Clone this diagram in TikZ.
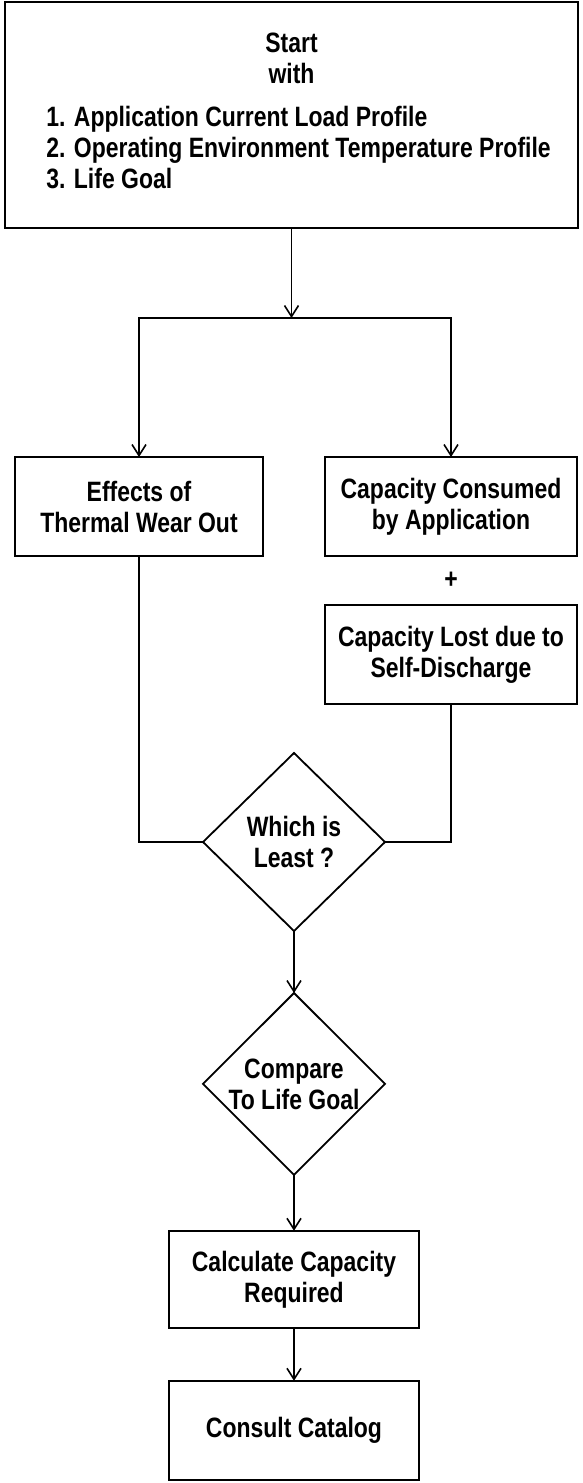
\documentclass[tikz,border=0pt]{standalone}
\usepackage{fontspec}
\setmainfont{Liberation Sans}[FakeStretch=0.82]
\usetikzlibrary{arrows.meta,positioning,calc,shapes.geometric}

\begin{document}
\begin{tikzpicture}[x=1pt, y=-1pt,
  every node/.style={font=\fontsize{28}{31}\selectfont\bfseries},
  box/.style={draw, line width=1.8pt, align=center, inner sep=0pt, outer sep=0pt, minimum height=99pt},
  decide/.style={draw, diamond, line width=1.8pt, align=center, inner sep=0pt, outer sep=0pt, minimum width=182pt, minimum height=178pt},
  arr/.style={-{Straight Barb[length=11pt,width=14pt]}, line width=1.6pt},
  link/.style={line width=1.6pt}
]
\useasboundingbox (0,0) rectangle (583,1483);

% Inputs
\node[box, minimum width=573pt, minimum height=226pt] (start) at (291.5,115) {Start\\with\\[12pt]\hspace*{14pt}\begin{tabular}[t]{@{}l@{}}1. Application Current Load Profile\\2. Operating Environment Temperature Profile\\3. Life Goal\end{tabular}};
\coordinate (split) at ([yshift=-90pt]start.south);
\draw[arr] (start) -- (split);

% Two branches
\node[box, minimum width=248pt] (thermal) at (139,506.5) {Effects of\\Thermal Wear Out};
\node[box, minimum width=252pt, right=62pt of thermal] (consumed) {Capacity Consumed\\by Application};
\node[box, minimum width=252pt, below=49pt of consumed] (lost) {Capacity Lost due to\\Self-Discharge};
\node (plus) at ($(consumed.south)!0.5!(lost.north)$) {+};
\draw[arr] (split) -| (thermal);
\draw[arr] (split) -| (consumed);

% Decisions
\node[decide] (least) at (294,842) {Which is\\Least ?};
\draw[link] (thermal) |- (least);
\draw[link] (lost) |- (least);
\node[decide, below=62pt of least] (compare) {Compare\\To Life Goal};
\draw[arr] (least) -- (compare);

% Result
\node[box, minimum width=250pt, minimum height=97pt, below=56pt of compare] (calc) {Calculate Capacity\\Required};
\node[box, minimum width=250pt, below=53pt of calc] (catalog) {Consult Catalog};
\draw[arr] (compare) -- (calc);
\draw[arr] (calc) -- (catalog);
\end{tikzpicture}
\end{document}
